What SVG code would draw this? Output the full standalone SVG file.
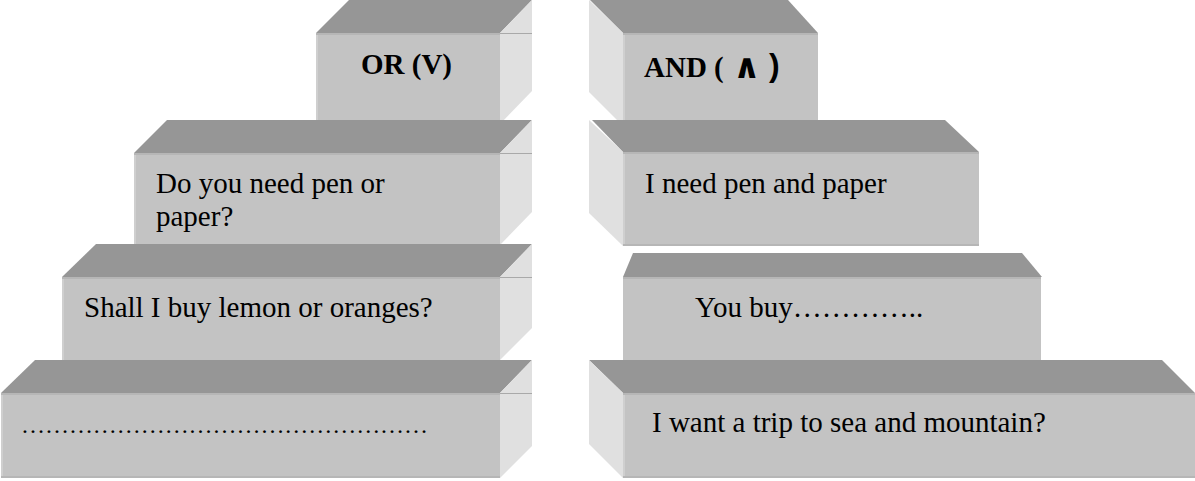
<svg xmlns="http://www.w3.org/2000/svg" width="1195" height="481" viewBox="0 0 1195 481">
<style>
.top{fill:#969696}
.front{fill:#c3c3c3}
.side{fill:#e0e0e0}
.hl{stroke:#b6b6b6;stroke-width:2}
.lh{stroke:#cfcfcf;stroke-width:2}
.sl{stroke:#a9a9a9;stroke-width:1}
.t{font-family:"Liberation Serif","Times New Roman",serif;font-size:29px;fill:#000}
.b{font-weight:bold}
</style>
<rect width="1195" height="481" fill="#fff"/>
<g id="connectors"/>
<g id="or-title">
<rect class="front" x="316" y="33" width="184" height="91"/>
<line class="lh" x1="317" y1="33" x2="317" y2="124"/>
<polygon class="top" points="316,33 349,0 532,0 500,33"/>
<polygon class="side" points="500,33 532,0 532,91 500,124"/>
<line class="sl" x1="500" y1="33.5" x2="532" y2="33.5"/>
<line class="hl" x1="316" y1="34" x2="500" y2="34"/>
<text class="t b" x="361" y="74">OR (V)</text>
</g>
<g id="or-pen">
<rect class="front" x="134" y="153" width="366" height="92"/>
<line class="lh" x1="135" y1="153" x2="135" y2="245"/>
<polygon class="top" points="134,153 167,120 532,120 500,153"/>
<polygon class="side" points="500,153 532,120 532,212 500,245"/>
<line class="sl" x1="500" y1="153.5" x2="532" y2="153.5"/>
<line class="hl" x1="134" y1="154" x2="500" y2="154"/>
<text class="t" x="156" y="193">Do you need pen or</text>
<text class="t" x="156" y="226">paper?</text>
</g>
<g id="or-lemon">
<rect class="front" x="62" y="277" width="438" height="83"/>
<line class="lh" x1="63" y1="277" x2="63" y2="360"/>
<polygon class="top" points="62,277 96,244 532,244 500,277"/>
<polygon class="side" points="500,277 532,244 532,328 500,360"/>
<line class="sl" x1="500" y1="277.5" x2="532" y2="277.5"/>
<line class="hl" x1="62" y1="278" x2="500" y2="278"/>
<text class="t" x="84" y="317">Shall I buy lemon or oranges?</text>
</g>
<g id="or-blank">
<rect class="front" x="1" y="393" width="499" height="85"/>
<line class="lh" x1="2" y1="393" x2="2" y2="478"/>
<polygon class="top" points="1,393 35,360 532,360 500,393"/>
<polygon class="side" points="500,393 532,360 532,446 500,478"/>
<line class="sl" x1="500" y1="393.5" x2="532" y2="393.5"/>
<line class="hl" x1="1" y1="394" x2="500" y2="394"/>
<line class="hl" x1="1" y1="477" x2="500" y2="477"/>
<text class="t" x="21" y="433" style="font-size:24px" textLength="407" lengthAdjust="spacing">……………………………………………</text>
</g>
<g id="and-title">
<rect class="front" x="623" y="33" width="195" height="91"/>
<polygon class="top" points="590,0 788,0 818,33 623,33"/>
<polygon class="side" points="589,0 623,33 623,126 589,92"/>
<line class="lh" x1="624" y1="33" x2="624" y2="124"/>
<line class="hl" x1="623" y1="34" x2="818" y2="34"/>
<text class="t b" x="644" y="77">AND ( <tspan x="733" dy="1" style="font-family:'DejaVu Sans',sans-serif;font-size:34px">∧</tspan><tspan x="760" style="font-family:'Liberation Sans',Arial,sans-serif;font-size:32px" dy="-2"> )</tspan></text>
</g>
<g id="and-pen">
<rect class="front" x="623" y="152" width="356" height="94"/>
<polygon class="top" points="592,120 945,120 979,152 623,152"/>
<polygon class="side" points="589,120 623,152 623,246 589,213"/>
<line class="lh" x1="624" y1="152" x2="624" y2="246"/>
<line class="hl" x1="623" y1="153" x2="979" y2="153"/>
<line class="hl" x1="623" y1="245" x2="979" y2="245"/>
<text class="t" x="645" y="193">I need pen and paper</text>
</g>
<g id="and-buy">
<rect class="front" x="623" y="277" width="418" height="83"/>
<polygon class="top" points="633,253 1022,253 1042,277 623,277"/>
<line class="hl" x1="623" y1="278" x2="1041" y2="278"/>
<text class="t" x="695" y="317">You buy…………..</text>
</g>
<g id="and-trip">
<rect class="front" x="623" y="393" width="572" height="85"/>
<polygon class="top" points="589,360 1162,360 1195,393 623,393"/>
<polygon class="side" points="589,360 623,393 623,478 589,444"/>
<line class="lh" x1="624" y1="393" x2="624" y2="478"/>
<line class="hl" x1="623" y1="394" x2="1195" y2="394"/>
<line class="hl" x1="623" y1="477" x2="1195" y2="477"/>
<text class="t" x="652" y="432">I want a trip to sea and mountain?</text>
</g>
</svg>
